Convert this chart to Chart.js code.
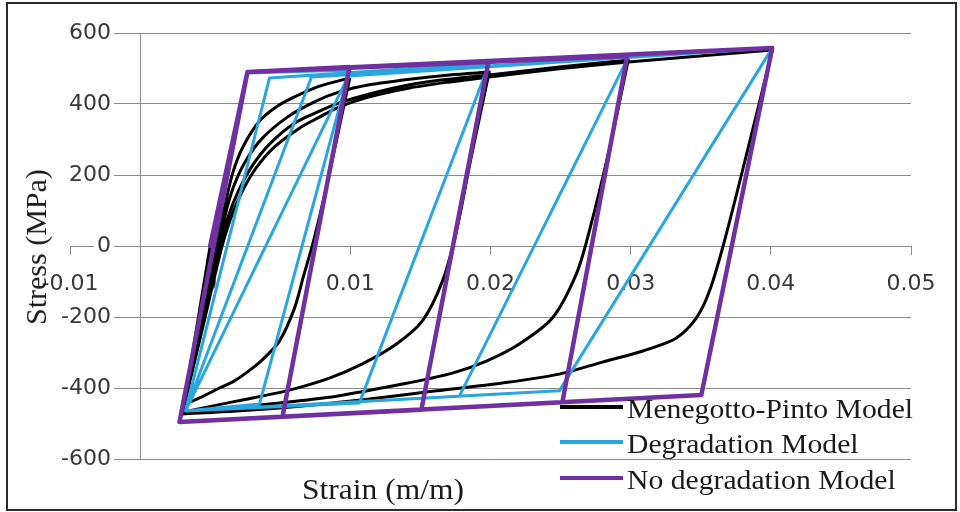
<!DOCTYPE html>
<html>
<head>
<meta charset="utf-8">
<script src="https://cdn.jsdelivr.net/npm/chart.js@4/dist/chart.umd.min.js"></script>
<style>
  html, body { margin: 0; padding: 0; background: #fff; }
  #wrap { position: relative; width: 960px; height: 512px; overflow: hidden; }
  #c { position: absolute; left: 0; top: 0; }
  #frame { position: absolute; left: 6px; top: 2px; width: 951px; height: 509px; border: 2px solid #2b2b2b; box-sizing: border-box; pointer-events: none; }
  .title { position: absolute; font-family: "Liberation Serif", "Times New Roman", serif; font-size: 30px; color: #1a1a1a; white-space: nowrap; }
  #xTitle { left: 383px; top: 489px; transform: translate(-50%, -50%) scaleX(1.05); }
  #yTitle { left: 36px; top: 247px; transform: translate(-50%, -50%) rotate(-90deg); }
  #legend { position: absolute; left: 560px; top: 391px; font-family: "Liberation Serif", "Times New Roman", serif; font-size: 28px; color: #1a1a1a; }
  .row { display: flex; align-items: center; height: 35.5px; white-space: nowrap; }
  .swatch { width: 63px; height: 4px; margin-right: 4px; margin-top: -4px; }
  .lbl { display: inline-block; transform-origin: left center; transform: scaleX(1.06); }
</style>
</head>
<body>
<div id="wrap">
  <canvas id="c" width="960" height="512"></canvas>
  <div id="yTitle" class="title">Stress (MPa)</div>
  <div id="xTitle" class="title">Strain (m/m)</div>
  <div id="legend"></div>
  <div id="frame"></div>
</div>
<script>
// axis ranges
const strainRange = [-0.01, 0.05];
const strainStep = 0.01;
const stressRange = [-600, 600];
const stressStep = 200;
const yAxisAt = -0.005;

const seriesNames = ['Menegotto-Pinto Model', 'Degradation Model', 'No degradation Model'];
const seriesColors = ['#000000', '#29a7dc', '#7030a0'];

// No degradation model (bilinear)
const noDegStrain = [0, 0.00266, 0.00994, 0.00516, -0.00219, 0.00266, 0.01985, 0.01507, -0.00219,
  0.00266, 0.02975, 0.02513, -0.00219, 0.00266, 0.0401, 0.03504, -0.00219];
const noDegStress = [0, 490, 504, -481, -496, 490, 518, -461, -496,
  490, 535, -440, -496, 490, 558, -420, -496];

// Degradation model
const degStrain = [0, 0.00266, 0.00994, 0.00352, -0.00176, 0.00423, 0.01992, 0.01065, -0.00176,
  0.00723, 0.02983, 0.01778, -0.00176, 0.00986, 0.04011, 0.02491, -0.00176];
const degStress = [0, 487, 496, -445, -465, 473, 515, -442, -465,
  476, 532, -423, -465, 479, 558, -408, -465];

// Menegotto-Pinto, branches split by null
const mpStrain = [
  0, -0.00198, null,
  -0.00198, -0.00076, 0.00052, 0.00102, 0.00159, 0.0023, 0.00352, 0.00473, 0.00587, 0.00765, 0.00944, 0.00994, null,
  0.00994, 0.00908, 0.00823, 0.00737, 0.00666, 0.00602, 0.00494, 0.00387, 0.00302, 0.00173, 0.00066, -0.00076, -0.00198, null,
  -0.00198, -0.00069, 0.00059, 0.00109, 0.00166, 0.00245, 0.00366, 0.00551, 0.00744, 0.00922, 0.01136, 0.01422, 0.01707, 0.01991, null,
  0.01991, 0.01864, 0.01757, 0.01657, 0.01514, 0.01329, 0.01086, 0.00851, 0.00544, 0.00188, -0.00198, null,
  -0.00198, -0.00062, 0.00073, 0.00131, 0.00202, 0.00295, 0.00423, 0.00601, 0.0078, 0.00922, 0.01136, 0.01422, 0.01707, 0.01991, 0.02491, 0.02983, null,
  0.02983, 0.02848, 0.02705, 0.02612, 0.02441, 0.02206, 0.01971, 0.01728, 0.01372, 0.00901, 0.00423, -0.00198, null,
  -0.00198, -0.00059, 0.00081, 0.00145, 0.00223, 0.00323, 0.00459, 0.00637, 0.0078, 0.00922, 0.01136, 0.01422, 0.01707, 0.01991, 0.02491, 0.02983, 0.0349, 0.04011, null,
  0.04011, 0.03833, 0.03669, 0.03562, 0.03468, 0.03326, 0.03133, 0.0299, 0.02798, 0.02491, 0.02085, 0.01614, 0.01136, 0.00658, 0.00188, -0.00198
];
const mpStress = [
  0, -473, null,
  -473, -239, 14, 107, 203, 276, 352, 392, 417, 448, 468, 470, null,
  470, 310, 155, 14, -85, -175, -268, -315, -344, -380, -400, -428, -448, null,
  -448, -225, 0, 90, 166, 234, 301, 363, 406, 434, 454, 470, 482, 490, null,
  490, 254, 42, -99, -211, -276, -332, -372, -408, -437, -468, null,
  -468, -234, 0, 85, 155, 223, 287, 346, 380, 403, 428, 454, 470, 482, 504, 524, null,
  524, 273, 42, -79, -203, -276, -324, -358, -389, -423, -445, -470, null,
  -470, -239, -6, 76, 149, 217, 279, 332, 363, 392, 420, 445, 462, 476, 499, 518, 535, 552, null,
  552, 268, 14, -127, -203, -259, -290, -307, -327, -361, -386, -408, -431, -451, -465, -473
];

const toPoints = (xs, ys) => xs.map((x, i) => ({ x: x, y: ys[i] }));

Chart.defaults.font.family = '"DejaVu Sans", Verdana, sans-serif';

const gridGray = '#8c8c8c';

new Chart(document.getElementById('c'), {
  type: 'scatter',
  data: {
    datasets: [
      {
        label: seriesNames[2],
        data: toPoints(noDegStrain, noDegStress),
        showLine: true, borderColor: seriesColors[2], borderWidth: 4.5,
        pointRadius: 0, tension: 0, borderJoinStyle: 'round', borderCapStyle: 'round'
      },
      {
        label: seriesNames[1],
        data: toPoints(degStrain, degStress),
        showLine: true, borderColor: seriesColors[1], borderWidth: 3,
        pointRadius: 0, tension: 0, borderJoinStyle: 'round', borderCapStyle: 'round'
      },
      {
        label: seriesNames[0],
        data: toPoints(mpStrain, mpStress),
        showLine: true, borderColor: seriesColors[0], borderWidth: 3,
        pointRadius: 0, tension: 0.3, spanGaps: false, borderJoinStyle: 'round', borderCapStyle: 'round'
      }
    ]
  },
  options: {
    responsive: false,
    animation: false,
    layout: { padding: { left: 70, right: 49, top: 33, bottom: 53 } },
    plugins: { legend: { display: false }, tooltip: { enabled: false } },
    scales: {
      x: {
        type: 'linear',
        position: { y: 0 },
        min: strainRange[0], max: strainRange[1],
        ticks: {
          stepSize: strainStep, padding: 17, color: '#383838', font: { size: 22 },
          maxRotation: 0, autoSkip: false,
          callback: (v) => String(Number(v.toFixed(2)))
        },
        grid: { drawOnChartArea: false, drawTicks: true, tickLength: 8, color: gridGray },
        border: { color: gridGray, width: 1 }
      },
      y: {
        type: 'linear',
        position: 'left',
        min: stressRange[0], max: stressRange[1],
        ticks: {
          stepSize: stressStep, mirror: true, crossAlign: 'far', padding: -3,
          color: '#383838', font: { size: 22 },
          showLabelBackdrop: true, backdropColor: '#ffffff', backdropPadding: { x: 3, y: 0 }, z: 1
        },
        grid: { color: gridGray, lineWidth: 1, drawTicks: false },
        border: { display: false }
      },
      yLine: {
        type: 'linear',
        position: { x: yAxisAt },
        min: stressRange[0], max: stressRange[1],
        ticks: { display: false },
        grid: { drawOnChartArea: false, drawTicks: false },
        border: { color: gridGray, width: 1 }
      }
    }
  }
});

// legend
const legend = document.getElementById('legend');
seriesNames.forEach((name, i) => {
  const row = document.createElement('div');
  row.className = 'row';
  const sw = document.createElement('span');
  sw.className = 'swatch';
  sw.style.background = seriesColors[i];
  const t = document.createElement('span');
  t.className = 'lbl';
  t.textContent = name;
  row.appendChild(sw);
  row.appendChild(t);
  legend.appendChild(row);
});
</script>
</body>
</html>
